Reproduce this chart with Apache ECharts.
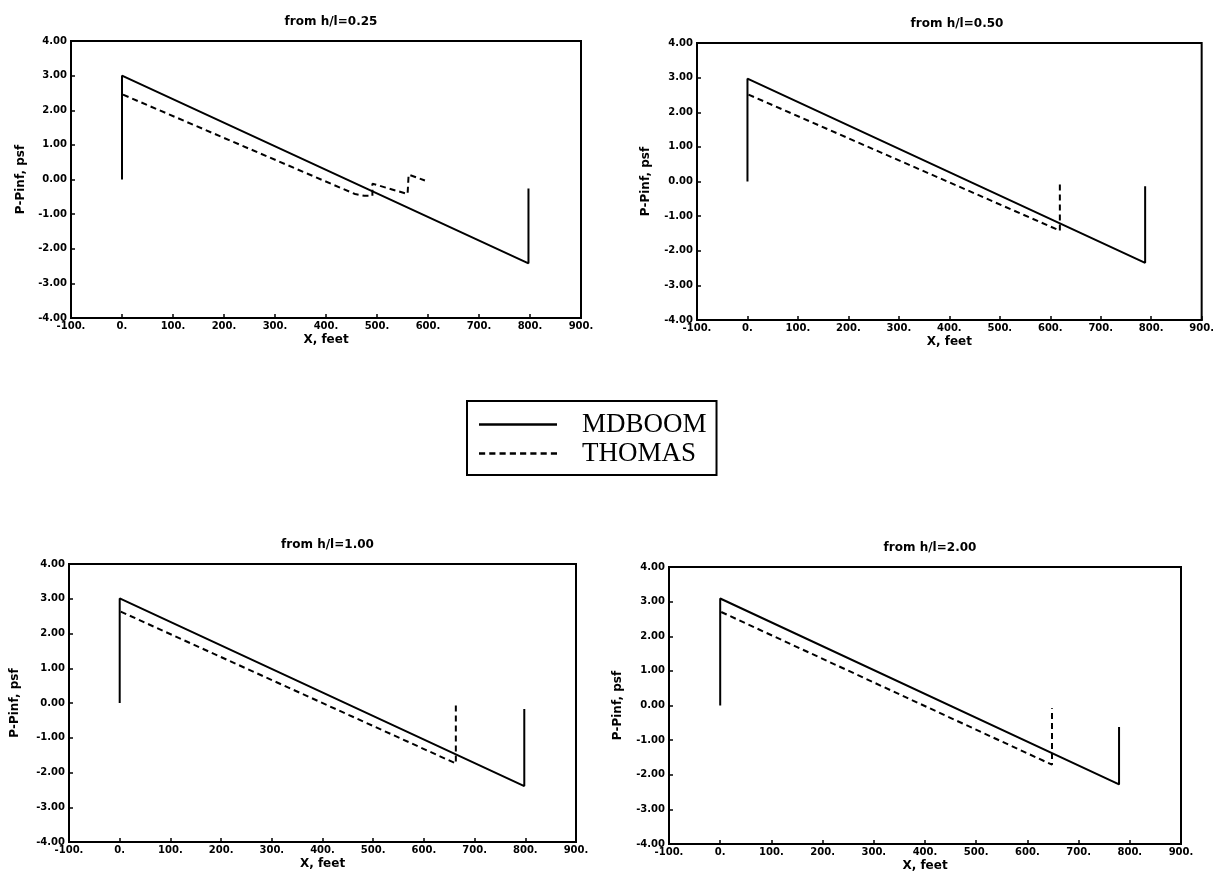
<!DOCTYPE html>
<html>
<head>
<meta charset="utf-8">
<script src="https://cdn.jsdelivr.net/npm/echarts@6/dist/echarts.min.js"></script>
<style>
  html, body { margin: 0; padding: 0; background: #fff; }
  #chart { width: 1217px; height: 875px; }
</style>
</head>
<body>
<div id="chart"></div>
<script>
// Overpressure signature comparison, four source altitudes
const panelTitles = ['from h/l=0.25', 'from h/l=0.50', 'from h/l=1.00', 'from h/l=2.00'];
const seriesNames = ['MDBOOM', 'THOMAS'];

// h/l = 0.25
const mdboomX_025 = [0, 0, 797, 797];
const mdboomY_025 = [0, 3.00, -2.42, -0.26];
const thomasX_025 = [2, 365, 457, 475, 491, 491, 560, 562, 594];
const thomasY_025 = [2.45, 0.16, -0.42, -0.47, -0.47, -0.12, -0.42, 0.14, -0.03];

// h/l = 0.50
const mdboomX_050 = [0, 0, 788, 788];
const mdboomY_050 = [0, 2.97, -2.35, -0.14];
const thomasX_050 = [2, 619, 619];
const thomasY_050 = [2.51, -1.42, -0.02];

// h/l = 1.00
const mdboomX_100 = [0, 0, 798, 798];
const mdboomY_100 = [0, 3.01, -2.39, -0.17];
const thomasX_100 = [2, 663, 663];
const thomasY_100 = [2.63, -1.74, -0.05];

// h/l = 2.00
const mdboomX_200 = [0, 0, 779, 779];
const mdboomY_200 = [0, 3.09, -2.28, -0.62];
const thomasX_200 = [2, 648, 648];
const thomasY_200 = [2.70, -1.71, -0.08];

const panels = [
  { mx: mdboomX_025, my: mdboomY_025, tx: thomasX_025, ty: thomasY_025 },
  { mx: mdboomX_050, my: mdboomY_050, tx: thomasX_050, ty: thomasY_050 },
  { mx: mdboomX_100, my: mdboomY_100, tx: thomasX_100, ty: thomasY_100 },
  { mx: mdboomX_200, my: mdboomY_200, tx: thomasX_200, ty: thomasY_200 }
];

// plot frames (px)
const frames = [
  { left: 71,  top: 41,  width: 510, height: 277, yGap: 44 },
  { left: 697, top: 43,  width: 510, height: 277, yGap: 45 },
  { left: 69,  top: 564, width: 507, height: 278, yGap: 48 },
  { left: 669, top: 567, width: 512, height: 277, yGap: 45 }
];

const zip = (xs, ys) => xs.map((x, i) => [x, ys[i]]);
const tickFont = { fontFamily: 'DejaVu Sans', fontWeight: 'bold', fontSize: 10, color: '#000' };
const nameFont = { fontFamily: 'DejaVu Sans', fontWeight: 'bold', fontSize: 12, color: '#000' };

// legend keys: a solid bar and a row of short dashes
const solidKey = 'path://M0,0h78v2.5h-78z';
let dashedKey = 'path://';
for (let k = 0; k < 8; k++) dashedKey += 'M' + (k * 10) + ',0h6v2.5h-6z';

const grids = [], xAxes = [], yAxes = [], titles = [], series = [];
frames.forEach((f, i) => {
  grids.push({ left: f.left, top: f.top, width: f.width, height: f.height,
    show: true, borderColor: '#000', borderWidth: 2, backgroundColor: 'transparent' });
  titles.push({ text: panelTitles[i], left: f.left + f.width / 2, top: f.top - 30,
    textAlign: 'center',
    textStyle: { fontFamily: 'DejaVu Sans', fontWeight: 'bold', fontSize: 12, color: '#000' } });
  xAxes.push({
    type: 'value', gridIndex: i, min: -100, max: 900, interval: 100,
    name: 'X, feet', nameLocation: 'middle', nameGap: 16, nameTextStyle: nameFont,
    axisLine: { show: true, onZero: false, lineStyle: { color: '#000', width: 2 } },
    axisTick: { show: true, inside: true, length: 4, lineStyle: { color: '#000', width: 1.5 } },
    axisLabel: Object.assign({ margin: 3, formatter: v => v.toFixed(0) + '.' }, tickFont),
    splitLine: { show: false }
  });
  yAxes.push({
    type: 'value', gridIndex: i, min: -4, max: 4, interval: 1,
    name: 'P-Pinf, psf', nameLocation: 'middle', nameGap: f.yGap, nameTextStyle: nameFont,
    axisLine: { show: true, onZero: false, lineStyle: { color: '#000', width: 2 } },
    axisTick: { show: true, inside: true, length: 4, lineStyle: { color: '#000', width: 1.5 } },
    axisLabel: Object.assign({ margin: 4, formatter: v => v.toFixed(2) }, tickFont),
    splitLine: { show: false }
  });
  const p = panels[i];
  series.push({
    name: seriesNames[0], type: 'line', xAxisIndex: i, yAxisIndex: i,
    data: zip(p.mx, p.my), showSymbol: false, symbol: 'none', animation: false,
    lineStyle: { color: '#000', width: 2, type: 'solid' }, itemStyle: { color: '#000' }
  });
  series.push({
    name: seriesNames[1], type: 'line', xAxisIndex: i, yAxisIndex: i,
    data: zip(p.tx, p.ty), showSymbol: false, symbol: 'none', animation: false,
    lineStyle: { color: '#000', width: 2, type: [6, 4] }, itemStyle: { color: '#000' }
  });
});

const chart = echarts.init(document.getElementById('chart'), null, { renderer: 'canvas' });
chart.setOption({
  backgroundColor: '#fff',
  animation: false,
  title: titles,
  grid: grids,
  xAxis: xAxes,
  yAxis: yAxes,
  legend: {
    data: [
      { name: seriesNames[0], icon: solidKey },
      { name: seriesNames[1], icon: dashedKey }
    ],
    orient: 'vertical',
    left: 467, top: 401,
    padding: [10, 10, 8, 12],
    itemGap: 2,
    itemWidth: 78, itemHeight: 14,
    symbolKeepAspect: true,
    borderColor: '#000', borderWidth: 2,
    selectedMode: false,
    itemStyle: { color: '#000', borderWidth: 0 },
    textStyle: { fontFamily: 'Liberation Serif', fontSize: 27, color: '#000', padding: [0, 0, 0, 20] }
  },
  series: series
});
</script>
</body>
</html>
